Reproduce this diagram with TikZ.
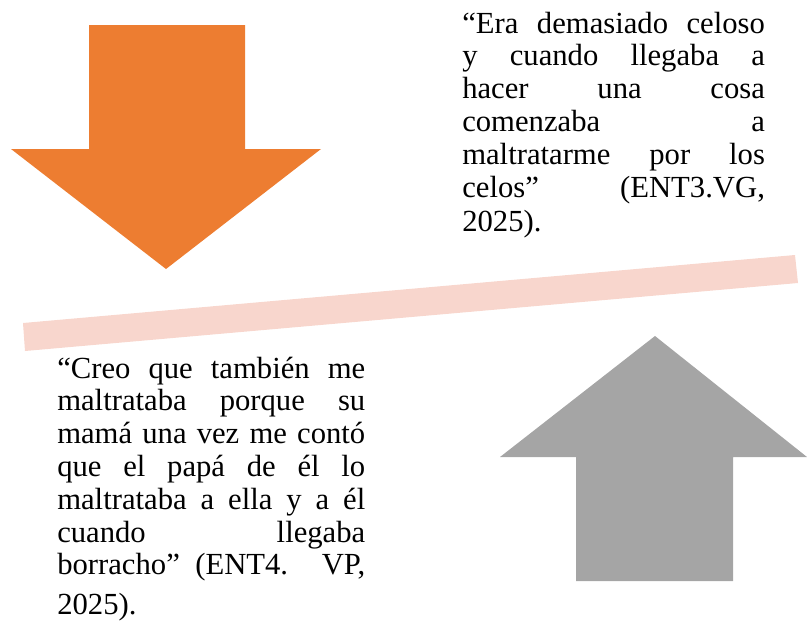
\documentclass[tikz,border=0pt]{standalone}
\usepackage{fontspec}
\setmainfont{Liberation Serif}
\usepackage{tikz}
\usetikzlibrary{positioning}
\definecolor{naranja}{HTML}{ED7D31}
\definecolor{gris}{HTML}{A5A5A5}
\definecolor{rosa}{RGB}{248,214,205}

\begin{document}
\begin{tikzpicture}[x=0.75pt,y=-0.75pt,
  cita/.style={anchor=base west,inner sep=0pt,align=justify,
    font=\fontsize{23}{24.6}\selectfont,
    execute at begin node={\tolerance=10000\relax\hbadness=10000\relax}}]
  \useasboundingbox (0,0) rectangle (807,622); % marco del dibujo
  \fill[naranja] (89,25) -- (245,25) -- (245,149) -- (321,149) -- (166,269)
    -- (11,149) -- (89,149) -- cycle; % flecha naranja hacia abajo
  \fill[rosa] (23,323) -- (795,255) -- (798,283) -- (25,351) -- cycle; % franja rosada inclinada
  \fill[gris] (576,581) -- (733,581) -- (733,457) -- (807,457) -- (655,336)
    -- (500,457) -- (576,457) -- cycle; % flecha gris hacia arriba
  \node[cita,text width=227pt] (citaENT3) at (462,33) {“Era demasiado celoso\linebreak
    y cuando llegaba a\linebreak hacer una cosa\linebreak comenzaba a\linebreak
    maltratarme por los\linebreak celos” (ENT3.VG,\vspace{1.5pt}\linebreak 2025).}; % cita de arriba
  \node[cita,text width=231pt] (citaENT4) at (57,378) {“Creo que también me\linebreak
    maltrataba porque su\linebreak mamá una vez me contó\linebreak
    que el papá de él lo\linebreak maltrataba a ella y a él\linebreak
    cuando llegaba\linebreak borracho” (ENT4. VP,\vspace{5pt}\linebreak 2025).}; % cita de abajo
\end{tikzpicture}
\end{document}
